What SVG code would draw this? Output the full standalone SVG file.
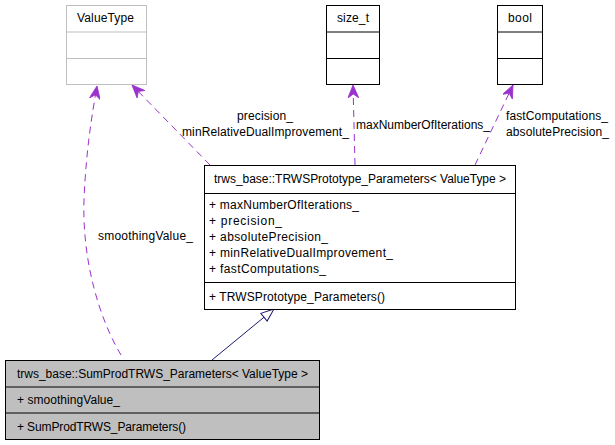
<svg xmlns="http://www.w3.org/2000/svg" width="615" height="445" viewBox="0 0 615 445">
<style>
text{font-family:"Liberation Sans",Arial,sans-serif;font-size:12px;fill:#000}
.box{fill:#fff;stroke:#000;stroke-width:1}
.grey{fill:#fff;stroke:#bfbfbf;stroke-width:1}
.sel{fill:#bfbfbf;stroke:#000;stroke-width:1}
.dep{fill:none;stroke:#9a32cd;stroke-width:1;stroke-dasharray:7,5}
.inh{fill:none;stroke:#191970;stroke-width:1}
.c{text-anchor:middle}
</style>
<defs>
<marker id="vee" viewBox="0 0 13 11" refX="13" refY="5.5" markerWidth="13" markerHeight="11" markerUnits="userSpaceOnUse" orient="auto">
<path d="M0,0 L13,5.5 L0,11 L4,5.5 z" fill="#9a32cd" stroke="#9a32cd" stroke-width="0.8"/>
</marker>
<marker id="tri" viewBox="0 0 14 12" refX="14" refY="6" markerWidth="14" markerHeight="12" markerUnits="userSpaceOnUse" orient="auto">
<path d="M1,1 L14,6 L1,11 z" fill="#fff" stroke="#191970" stroke-width="1"/>
</marker>
</defs>
<g id="connectors">
<path class="dep" d="M121,355 C100,320 82,262 84,200 C86,150 92,115 97,86" marker-end="url(#vee)"/>
<path class="dep" d="M210,165 L132,85" marker-end="url(#vee)"/>
<path class="dep" d="M355,165 L353,85" marker-end="url(#vee)"/>
<path class="dep" d="M475,165 L513,85" marker-end="url(#vee)"/>
<path class="inh" d="M212,360 L274,309" marker-end="url(#tri)"/>
<text x="98" y="240" textLength="95" lengthAdjust="spacing">smoothingValue_</text>
<text class="c" x="265" y="120" textLength="56" lengthAdjust="spacing">precision_</text>
<text class="c" x="265.5" y="136" textLength="167" lengthAdjust="spacing">minRelativeDualImprovement_</text>
<text x="356" y="129" textLength="134" lengthAdjust="spacing">maxNumberOfIterations_</text>
<text x="506" y="120" textLength="102" lengthAdjust="spacing">fastComputations_</text>
<text x="506" y="136" textLength="103" lengthAdjust="spacing">absolutePrecision_</text>
</g>
<g id="ValueType">
<rect class="grey" x="66.5" y="5.5" width="80" height="79"/>
<line x1="66.5" y1="32" x2="146.5" y2="32" stroke="#bfbfbf"/>
<line x1="66.5" y1="58.5" x2="146.5" y2="58.5" stroke="#bfbfbf"/>
<text class="c" x="105.5" y="21.5" textLength="57" lengthAdjust="spacing">ValueType</text>
</g>
<g id="size_t">
<rect class="box" x="326.5" y="5.5" width="53" height="79"/>
<line x1="326.5" y1="32" x2="379.5" y2="32" stroke="#000"/>
<line x1="326.5" y1="58.5" x2="379.5" y2="58.5" stroke="#000"/>
<text class="c" x="353" y="21.5" textLength="32" lengthAdjust="spacing">size_t</text>
</g>
<g id="bool">
<rect class="box" x="497.5" y="5.5" width="45" height="79"/>
<line x1="497.5" y1="32" x2="542.5" y2="32" stroke="#000"/>
<line x1="497.5" y1="58.5" x2="542.5" y2="58.5" stroke="#000"/>
<text class="c" x="520" y="21.5" textLength="24" lengthAdjust="spacing">bool</text>
</g>
<g id="TRWSPrototype_Parameters">
<rect class="box" x="204.5" y="165.5" width="311" height="144"/>
<line x1="204.5" y1="193.5" x2="515.5" y2="193.5" stroke="#000"/>
<line x1="204.5" y1="282.5" x2="515.5" y2="282.5" stroke="#000"/>
<text class="c" x="360" y="182.5" textLength="292" lengthAdjust="spacing">trws_base::TRWSPrototype_Parameters&lt; ValueType &gt;</text>
<text x="209" y="209" textLength="150" lengthAdjust="spacing">+ maxNumberOfIterations_</text>
<text x="209" y="225" textLength="73" lengthAdjust="spacing">+ precision_</text>
<text x="209" y="241" textLength="119" lengthAdjust="spacing">+ absolutePrecision_</text>
<text x="209" y="257" textLength="184" lengthAdjust="spacing">+ minRelativeDualImprovement_</text>
<text x="209" y="272.5" textLength="117" lengthAdjust="spacing">+ fastComputations_</text>
<text x="209" y="300.5" textLength="176" lengthAdjust="spacing">+ TRWSPrototype_Parameters()</text>
</g>
<g id="SumProdTRWS_Parameters">
<rect class="sel" x="5.5" y="360.5" width="314" height="79"/>
<line x1="5.5" y1="387" x2="319.5" y2="387" stroke="#000"/>
<line x1="5.5" y1="413" x2="319.5" y2="413" stroke="#000"/>
<text class="c" x="162.5" y="377.5" textLength="291" lengthAdjust="spacing">trws_base::SumProdTRWS_Parameters&lt; ValueType &gt;</text>
<text x="17" y="403.5" textLength="103" lengthAdjust="spacing">+ smoothingValue_</text>
<text x="17" y="430.5" textLength="169" lengthAdjust="spacing">+ SumProdTRWS_Parameters()</text>
</g>
</svg>
